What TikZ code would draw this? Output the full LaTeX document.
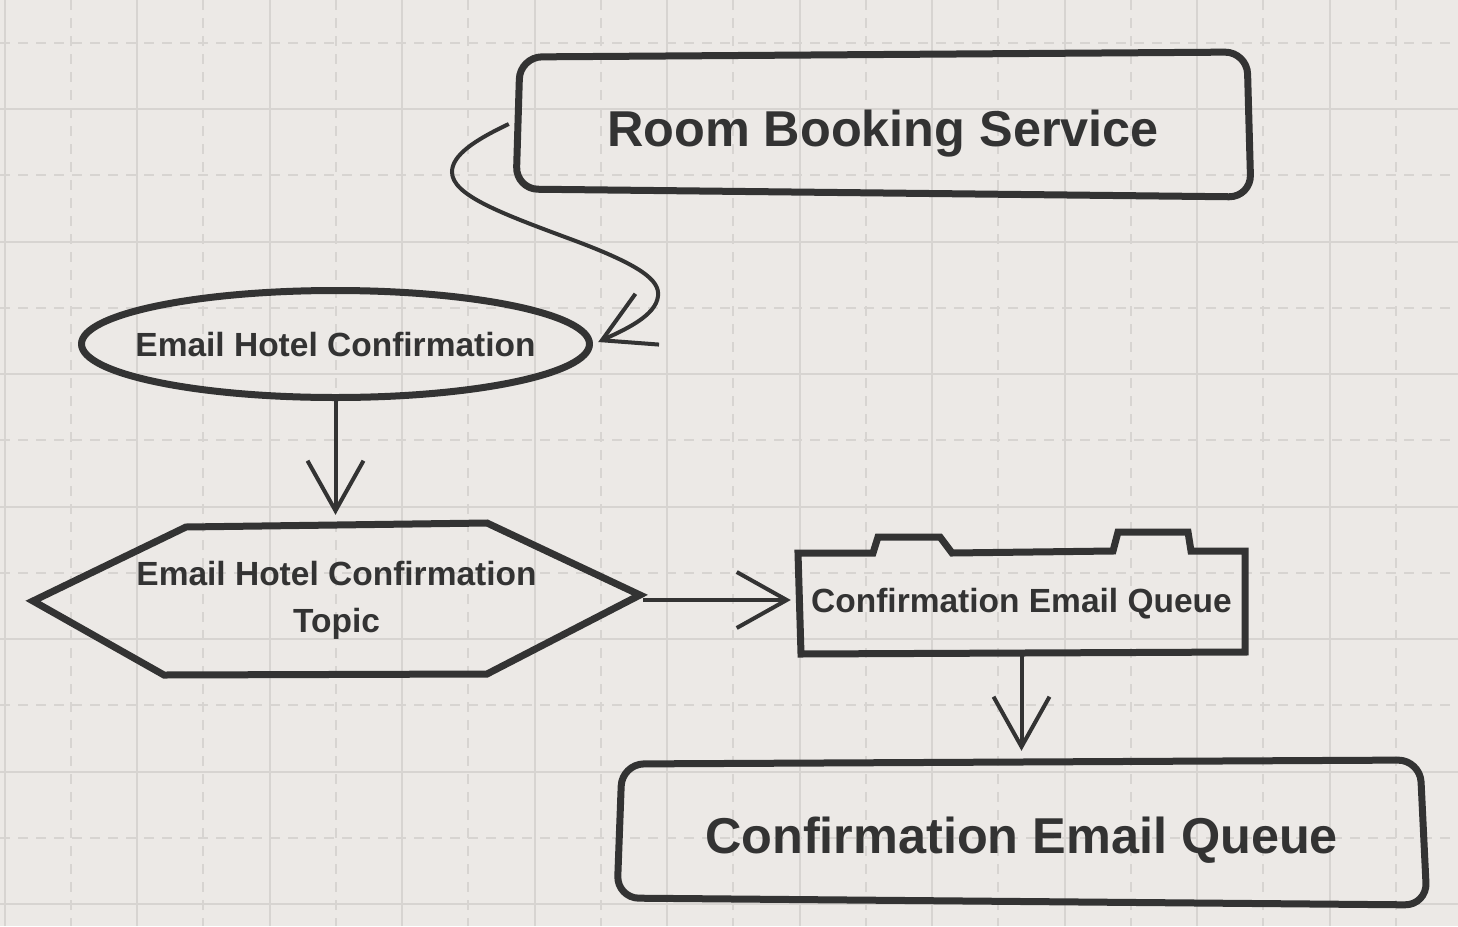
\documentclass[tikz,border=0pt]{standalone}
\usepackage{fontspec}
\setmainfont{Liberation Sans}
\usetikzlibrary{arrows.meta,shapes.geometric}
\definecolor{bg}{RGB}{236,233,230}
\definecolor{gridc}{RGB}{215,212,209}
\definecolor{ink}{RGB}{51,51,51}
\tikzset{
  shapeline/.style={draw=ink, line width=7pt, line join=round},
  sharpline/.style={draw=ink, line width=7pt, line join=miter},
  conn/.style={draw=ink, line width=4pt, line cap=butt, -{Straight Barb[length=50pt,width=56pt]}},
  bigtext/.style={font=\fontsize{50.4}{60}\selectfont\bfseries, text=ink, text height=36pt, text depth=0pt, inner sep=0pt},
  smalltext/.style={font=\fontsize{33.5}{47}\selectfont\bfseries, text=ink, inner sep=0pt},
  gridsolid/.style={draw=gridc, line width=2pt},
  griddash/.style={draw=gridc, line width=2pt, dash pattern=on 10pt off 8pt},
}
\begin{document}
\begin{tikzpicture}[x=1pt,y=-1pt]
\fill[bg] (0,0) rectangle (1458,926);
\useasboundingbox (0,0) rectangle (1458,926);
% grid
\foreach \i in {0,...,10} {
  \draw[griddash] ({70.75+132.5*\i},0) -- ++(0,926);
}
\foreach \j in {0,...,6} {
  \draw[griddash] (0,{42.75+132.5*\j}) -- ++(1458,0);
}
\foreach \i in {0,...,11} {
  \draw[gridsolid] ({4.5+132.5*\i},0) -- ++(0,926);
}
\foreach \j in {1,...,7} {
  \draw[gridsolid] (0,{-23.5+132.5*\j}) -- ++(1458,0);
}
% shapes
\draw[shapeline, rounded corners=22pt] (520,57) -- (1247,52) -- (1251,197) -- (516,189) -- cycle;
\draw[shapeline] (335.5,344) ellipse [x radius=254, y radius=53.5];
\draw[sharpline] (33,601) -- (186,527) -- (487,523) -- (640,595) -- (487,674) -- (164,675) -- cycle;
\draw[sharpline] (798,553) -- (873,553) -- (878,537) -- (940,537) -- (952,553) -- (1113,551) -- (1118,532) -- (1188,532) -- (1191,551) -- (1245,551) -- (1245,652) -- (801,654) -- cycle;
\draw[shapeline, rounded corners=22pt] (622,764) -- (1420,760) -- (1427,905) -- (617,898) -- cycle;
% nodes
\node[bigtext, minimum width=731pt, minimum height=140pt] (room) at (883,128) {Room Booking Service};
\node[smalltext, text height=24pt, text depth=0pt, minimum width=515pt, minimum height=114pt] (eh) at (335.5,344) {Email Hotel Confirmation};
\node[smalltext, align=center, minimum width=613pt, minimum height=152pt] (hex) at (336.5,600) {Email Hotel Confirmation\\Topic};
\node[smalltext, text height=24pt, text depth=0pt, minimum width=447pt, minimum height=101pt] (queue) at (1021.5,600) {Confirmation Email Queue};
\node[bigtext, minimum width=805pt, minimum height=140pt] (cq) at (1021.5,835) {Confirmation Email Queue};
% connectors
\draw[conn] ([xshift=-8.5pt,yshift=4pt]room.west) .. controls (475,140) and (452,155) .. (452,172) .. controls (452,195) and (500,213) .. (573,240) .. controls (640,265) and (660,280) .. (658,296) .. controls (656,316) and (624,330) .. ([xshift=5pt,yshift=2pt]eh.east);
\draw[conn, shorten >=9pt] (eh.south) -- (eh.south |- hex.north);
\draw[conn, shorten >=7pt] (hex.east) -- (hex.east -| queue.west);
\draw[conn, shorten <=5pt, shorten >=14pt] (queue.south) -- (queue.south |- cq.north);
\end{tikzpicture}
\end{document}
